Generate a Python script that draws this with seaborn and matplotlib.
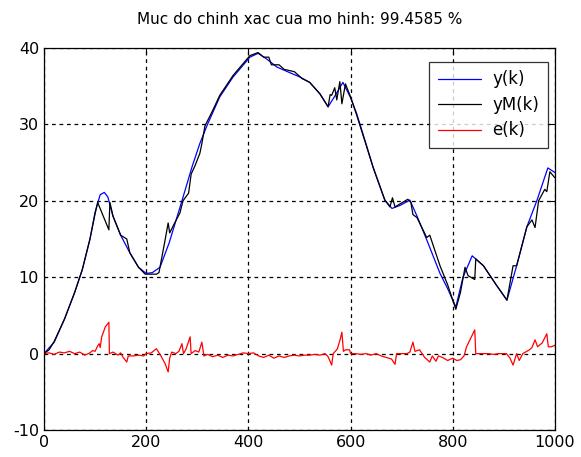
import matplotlib
matplotlib.use("Agg")
import matplotlib.pyplot as plt
import seaborn as sns
import pandas as pd

# y(k): measured output
k_y = [0, 20, 40, 60, 75, 90, 100, 110, 118, 125, 135, 150, 168, 185, 200, 212,
       227, 245, 270, 290, 305, 320, 344, 370, 403, 419, 435, 456, 480, 501, 520,
       540, 556, 570, 585, 600, 612, 630, 644, 667, 681, 697, 716, 730, 749, 775,
       790, 806, 820, 838, 860, 885, 906, 925, 945, 965, 986, 1000]
y_vals = [0.0, 1.5, 4.5, 8.0, 11.0, 15.0, 18.5, 20.8, 21.1, 20.5, 18.0, 15.5, 13.2,
          11.3, 10.5, 10.6, 11.3, 14.5, 20.0, 24.5, 27.5, 30.0, 33.6, 36.2, 38.8,
          39.3, 38.6, 37.5, 36.8, 36.2, 35.5, 34.0, 32.3, 33.8, 35.5, 33.5, 31.4,
          27.5, 24.4, 20.1, 19.0, 19.4, 20.1, 18.0, 14.9, 10.5, 8.5, 6.1, 10.0,
          12.8, 11.5, 9.0, 7.0, 11.5, 16.6, 20.1, 24.3, 23.7]

# yM(k): model output
k_m = [0, 10, 20, 40, 60, 75, 90, 100, 105, 108, 127, 129, 135, 150, 162, 168,
       185, 198, 220, 225, 236, 243, 246, 255, 266, 272, 283, 288, 295, 305, 309,
       315, 330, 344, 370, 403, 419, 430, 440, 445, 460, 470, 490, 505, 520, 540,
       556, 560, 563, 569, 573, 579, 583, 590, 600, 612, 630, 644, 667, 677, 682,
       687, 697, 712, 718, 722, 730, 749, 755, 760, 775, 790, 806, 815, 824, 830,
       843, 845, 860, 885, 906, 918, 925, 945, 955, 961, 968, 980, 984, 990, 1000]
yM_vals = [0.0, 0.5, 1.6, 4.5, 8.0, 11.0, 15.0, 18.3, 19.8, 19.3, 16.2, 19.8, 18.0,
           15.5, 15.0, 13.2, 11.3, 10.4, 10.4, 10.6, 14.5, 17.1, 15.8, 17.0, 18.4,
           20.0, 21.0, 23.5, 24.5, 26.2, 27.5, 29.8, 31.8, 33.8, 36.4, 39.0, 39.4,
           38.8, 38.8, 37.8, 37.8, 37.2, 36.9, 36.0, 35.5, 34.0, 32.3, 33.9, 33.8,
           34.8, 33.2, 35.6, 32.7, 35.3, 33.6, 31.2, 27.4, 24.4, 20.1, 19.2, 20.4,
           19.2, 19.6, 20.2, 19.8, 18.2, 17.8, 15.2, 15.5, 14.5, 11.5, 9.0, 5.8,
           8.0, 11.3, 10.2, 9.7, 12.4, 11.5, 9.0, 7.0, 11.5, 11.5, 16.6, 17.5, 16.5,
           20.0, 21.5, 21.2, 23.8, 23.0]

# e(k): error
k_e = [0, 10, 20, 30, 40, 50, 60, 70, 80, 90, 95, 100, 105, 108, 110, 113, 120,
       127, 128, 135, 145, 150, 155, 162, 165, 175, 185, 195, 200, 210, 220, 228,
       237, 243, 246, 250, 258, 264, 270, 273, 278, 286, 288, 296, 303, 309, 313,
       320, 330, 340, 350, 360, 370, 380, 390, 400, 410, 420, 430, 440, 450, 460,
       470, 480, 490, 500, 510, 520, 530, 540, 550, 556, 563, 566, 574, 579, 583,
       586, 590, 598, 600, 610, 620, 630, 640, 650, 660, 670, 680, 687, 690, 700,
       710, 716, 722, 726, 735, 745, 755, 760, 767, 772, 780, 790, 800, 808, 815,
       822, 827, 843, 845, 855, 870, 880, 890, 905, 912, 918, 925, 930, 937, 950,
       955, 961, 966, 975, 984, 987, 993, 1000]
e_vals = [0.0, 0.1, -0.1, 0.2, 0.1, 0.3, 0.0, 0.2, -0.2, 0.1, 0.4, 0.3, 1.0, 1.3,
          0.8, 2.2, 3.5, 4.1, 0.0, 0.2, -0.2, 0.1, -0.5, -1.1, -0.3, -0.3, -0.2,
          -0.3, 0.0, 0.1, 0.65, -0.2, -1.3, -2.4, -0.6, 0.2, 0.0, 0.3, 1.3, 0.0,
          0.6, 2.2, 0.0, 0.4, 0.2, 1.5, -0.3, -0.1, -0.4, -0.2, -0.5, -0.2, -0.3,
          -0.1, 0.1, 0.0, 0.1, -0.3, -0.5, -0.2, -0.6, -0.3, -0.5, -0.3, -0.2, -0.3,
          -0.2, -0.2, -0.1, -0.2, 0.0, -0.4, -1.5, 0.0, 0.6, 1.7, 2.8, 0.3, 0.5,
          0.5, 0.0, 0.0, -0.1, 0.0, -0.2, 0.0, -0.3, -0.5, -0.7, -1.4, 0.0, 0.0,
          0.0, 0.2, 1.5, 0.3, 0.5, -0.5, -1.1, -0.3, -1.0, -0.3, -0.5, -0.9, -0.6,
          -0.9, -0.8, -0.3, 0.9, 3.1, 0.0, 0.0, 0.0, -0.1, 0.0, 0.0, -0.6, -1.5,
          0.0, -0.9, 0.0, 0.5, 0.8, 1.8, 0.9, 1.4, 2.6, 0.9, 0.9, 1.1]

title_text = "Muc do chinh xac cua mo hinh: 99.4585 %"

sns.set_style("white")
plt.rcParams["font.family"] = ["DejaVu Sans"]
plt.rcParams["axes.unicode_minus"] = False
plt.rcParams["text.color"] = "black"
plt.rcParams["xtick.color"] = "black"
plt.rcParams["ytick.color"] = "black"

fig = plt.figure(figsize=(5.81, 4.57), dpi=100)
ax = fig.add_axes([0.0757, 0.059, 0.8795, 0.836])

df_y = pd.DataFrame({"k": k_y, "v": y_vals})
df_m = pd.DataFrame({"k": k_m, "v": yM_vals})
df_e = pd.DataFrame({"k": k_e, "v": e_vals})

sns.lineplot(data=df_y, x="k", y="v", ax=ax, color="#0000ff", lw=0.9,
             sort=False, estimator=None, label="y(k)")
sns.lineplot(data=df_m, x="k", y="v", ax=ax, color="black", lw=0.9,
             sort=False, estimator=None, label="yM(k)")
sns.lineplot(data=df_e, x="k", y="v", ax=ax, color="#ff0000", lw=0.9,
             sort=False, estimator=None, label="e(k)")

ax.set_xlim(0, 1000)
ax.set_ylim(-10, 40)
ax.set_xticks(range(0, 1001, 200))
ax.set_yticks(range(-10, 41, 10))
ax.set_xlabel("")
ax.set_ylabel("")
ax.grid(True, color="black", linestyle=(0, (3, 3)), lw=0.9)
ax.tick_params(direction="in", top=True, right=True, length=4, labelsize=11.5,
               color="black", labelcolor="black", width=0.8)
for s in ax.spines.values():
    s.set_color("black")
    s.set_linewidth(0.9)
ax.set_title(title_text, fontsize=11, color="black", pad=17)

leg = ax.legend(loc="upper right", bbox_to_anchor=(0.986, 0.963), borderaxespad=0,
                fontsize=12, frameon=True, fancybox=False, handlelength=2.6,
                handletextpad=0.7, borderpad=0.5, labelspacing=0.45)
leg.get_frame().set_edgecolor("black")
leg.get_frame().set_linewidth(0.9)
for t in leg.get_texts():
    t.set_color("black")

fig.savefig("out.png", dpi=100)
